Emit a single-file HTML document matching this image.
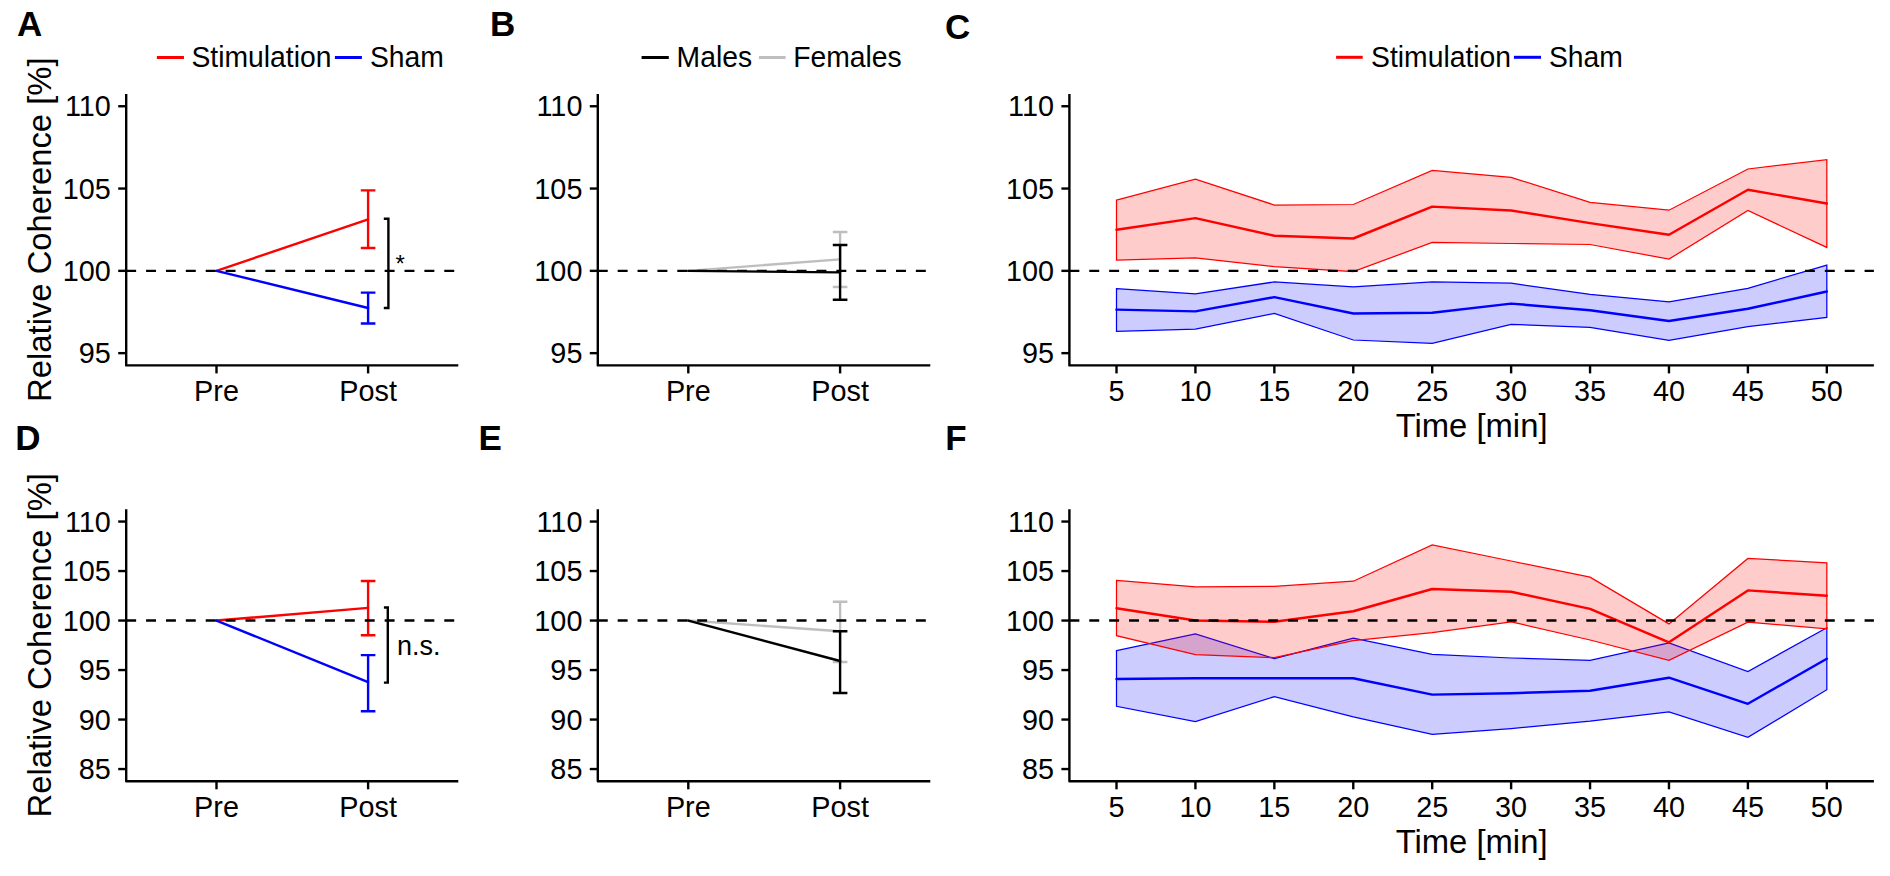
<!DOCTYPE html>
<html><head><meta charset="utf-8"><style>
html,body{margin:0;padding:0;background:#fff;}
body{width:1890px;height:876px;overflow:hidden;font-family:"Liberation Sans", sans-serif;}
svg{display:block;}
</style></head><body>
<svg width="1890" height="876" viewBox="0 0 1890 876" font-family='"Liberation Sans", sans-serif'>
<rect width="1890" height="876" fill="#fff"/>
<text x="17" y="36.0" font-size="35" font-weight="bold">A</text>
<text x="490" y="36.3" font-size="35" font-weight="bold">B</text>
<text x="945" y="38.8" font-size="35" font-weight="bold">C</text>
<text x="15.2" y="449.6" font-size="35" font-weight="bold">D</text>
<text x="478.5" y="449.6" font-size="35" font-weight="bold">E</text>
<text x="945.3" y="449.6" font-size="35" font-weight="bold">F</text>
<line x1="156.85" y1="57.5" x2="183.96" y2="57.5" stroke="#ff0000" stroke-width="3"/>
<text transform="translate(191.5 67.2) scale(1 1.03)" font-size="28.3">Stimulation</text>
<line x1="334.9" y1="57.5" x2="361.9" y2="57.5" stroke="#0000ff" stroke-width="3"/>
<text transform="translate(370.0 67.2) scale(1 1.03)" font-size="28.3">Sham</text>
<line x1="641.6" y1="57.5" x2="668.8" y2="57.5" stroke="#000000" stroke-width="3"/>
<text transform="translate(676.6 67.0) scale(1 1.03)" font-size="28.3">Males</text>
<line x1="758.9" y1="57.5" x2="785.6" y2="57.5" stroke="#bebebe" stroke-width="3"/>
<text transform="translate(793.2 67.0) scale(1 1.03)" font-size="28.3">Females</text>
<line x1="1336.1" y1="57.3" x2="1362.7" y2="57.3" stroke="#ff0000" stroke-width="3"/>
<text transform="translate(1371.1 67.0) scale(1 1.03)" font-size="28.3">Stimulation</text>
<line x1="1513.9" y1="57.3" x2="1541.0" y2="57.3" stroke="#0000ff" stroke-width="3"/>
<text transform="translate(1548.9 67.0) scale(1 1.03)" font-size="28.3">Sham</text>
<text transform="translate(50.8 229.70) rotate(-90) scale(1 1.03)" x="0" y="0" font-size="32.8" text-anchor="middle">Relative Coherence [%]</text>
<path d="M126.20 94.00 V365.40 H458.30" fill="none" stroke="#000" stroke-width="2.4" stroke-linejoin="round" stroke-linecap="butt"/>
<line x1="118.20" y1="106.25" x2="126.20" y2="106.25" stroke="#000" stroke-width="2.4"/>
<text transform="translate(110.80 116.45) scale(1 1.03)" font-size="28.8" text-anchor="end">110</text>
<line x1="118.20" y1="188.55" x2="126.20" y2="188.55" stroke="#000" stroke-width="2.4"/>
<text transform="translate(110.80 198.75) scale(1 1.03)" font-size="28.8" text-anchor="end">105</text>
<line x1="118.20" y1="270.85" x2="126.20" y2="270.85" stroke="#000" stroke-width="2.4"/>
<text transform="translate(110.80 281.05) scale(1 1.03)" font-size="28.8" text-anchor="end">100</text>
<line x1="118.20" y1="353.15" x2="126.20" y2="353.15" stroke="#000" stroke-width="2.4"/>
<text transform="translate(110.80 363.35) scale(1 1.03)" font-size="28.8" text-anchor="end">95</text>
<line x1="216.50" y1="365.40" x2="216.50" y2="373.40" stroke="#000" stroke-width="2.4"/>
<text transform="translate(216.50 400.80) scale(1 1.03)" font-size="28.8" text-anchor="middle">Pre</text>
<line x1="368.10" y1="365.40" x2="368.10" y2="373.40" stroke="#000" stroke-width="2.4"/>
<text transform="translate(368.10 400.80) scale(1 1.03)" font-size="28.8" text-anchor="middle">Post</text>
<path d="M216.50 270.85 L368.10 219.30" fill="none" stroke="#ff0000" stroke-width="2.4" stroke-linejoin="round" stroke-linecap="round"/>
<path d="M360.80 190.40 H375.40 M368.10 190.40 V248.00 M360.80 248.00 H375.40" fill="none" stroke="#ff0000" stroke-width="2.4"/>
<path d="M216.50 270.85 L368.10 308.00" fill="none" stroke="#0000ff" stroke-width="2.4" stroke-linejoin="round" stroke-linecap="round"/>
<path d="M360.80 292.60 H375.40 M368.10 292.60 V323.50 M360.80 323.50 H375.40" fill="none" stroke="#0000ff" stroke-width="2.4"/>
<line x1="126.20" y1="270.85" x2="458.30" y2="270.85" stroke="#000" stroke-width="2.4" stroke-dasharray="9.94 9.94"/>
<path d="M383.8 218.8 H388.4 V308.0 H383.8" fill="none" stroke="#000" stroke-width="2.4"/>
<text x="395.6" y="272.3" font-size="24">*</text>
<path d="M597.80 94.00 V365.40 H930.30" fill="none" stroke="#000" stroke-width="2.4" stroke-linejoin="round" stroke-linecap="butt"/>
<line x1="589.80" y1="106.25" x2="597.80" y2="106.25" stroke="#000" stroke-width="2.4"/>
<text transform="translate(582.40 116.45) scale(1 1.03)" font-size="28.8" text-anchor="end">110</text>
<line x1="589.80" y1="188.55" x2="597.80" y2="188.55" stroke="#000" stroke-width="2.4"/>
<text transform="translate(582.40 198.75) scale(1 1.03)" font-size="28.8" text-anchor="end">105</text>
<line x1="589.80" y1="270.85" x2="597.80" y2="270.85" stroke="#000" stroke-width="2.4"/>
<text transform="translate(582.40 281.05) scale(1 1.03)" font-size="28.8" text-anchor="end">100</text>
<line x1="589.80" y1="353.15" x2="597.80" y2="353.15" stroke="#000" stroke-width="2.4"/>
<text transform="translate(582.40 363.35) scale(1 1.03)" font-size="28.8" text-anchor="end">95</text>
<line x1="688.30" y1="365.40" x2="688.30" y2="373.40" stroke="#000" stroke-width="2.4"/>
<text transform="translate(688.30 400.80) scale(1 1.03)" font-size="28.8" text-anchor="middle">Pre</text>
<line x1="840.10" y1="365.40" x2="840.10" y2="373.40" stroke="#000" stroke-width="2.4"/>
<text transform="translate(840.10 400.80) scale(1 1.03)" font-size="28.8" text-anchor="middle">Post</text>
<path d="M688.30 270.85 L840.10 259.40" fill="none" stroke="#bebebe" stroke-width="2.4" stroke-linejoin="round" stroke-linecap="round"/>
<path d="M832.80 232.00 H847.40 M840.10 232.00 V287.00 M832.80 287.00 H847.40" fill="none" stroke="#bebebe" stroke-width="2.4"/>
<line x1="597.80" y1="270.85" x2="930.30" y2="270.85" stroke="#000" stroke-width="2.4" stroke-dasharray="9.94 9.94"/>
<path d="M688.30 270.85 L840.10 272.40" fill="none" stroke="#000000" stroke-width="2.4" stroke-linejoin="round" stroke-linecap="round"/>
<path d="M832.80 245.00 H847.40 M840.10 245.00 V299.70 M832.80 299.70 H847.40" fill="none" stroke="#000000" stroke-width="2.4"/>
<path d="M1069.40 94.00 V365.40 H1873.90" fill="none" stroke="#000" stroke-width="2.4" stroke-linejoin="round" stroke-linecap="butt"/>
<line x1="1061.40" y1="106.25" x2="1069.40" y2="106.25" stroke="#000" stroke-width="2.4"/>
<text transform="translate(1054.00 116.45) scale(1 1.03)" font-size="28.8" text-anchor="end">110</text>
<line x1="1061.40" y1="188.55" x2="1069.40" y2="188.55" stroke="#000" stroke-width="2.4"/>
<text transform="translate(1054.00 198.75) scale(1 1.03)" font-size="28.8" text-anchor="end">105</text>
<line x1="1061.40" y1="270.85" x2="1069.40" y2="270.85" stroke="#000" stroke-width="2.4"/>
<text transform="translate(1054.00 281.05) scale(1 1.03)" font-size="28.8" text-anchor="end">100</text>
<line x1="1061.40" y1="353.15" x2="1069.40" y2="353.15" stroke="#000" stroke-width="2.4"/>
<text transform="translate(1054.00 363.35) scale(1 1.03)" font-size="28.8" text-anchor="end">95</text>
<line x1="1116.50" y1="365.40" x2="1116.50" y2="373.40" stroke="#000" stroke-width="2.4"/>
<text transform="translate(1116.50 400.80) scale(1 1.03)" font-size="28.8" text-anchor="middle">5</text>
<line x1="1195.42" y1="365.40" x2="1195.42" y2="373.40" stroke="#000" stroke-width="2.4"/>
<text transform="translate(1195.42 400.80) scale(1 1.03)" font-size="28.8" text-anchor="middle">10</text>
<line x1="1274.35" y1="365.40" x2="1274.35" y2="373.40" stroke="#000" stroke-width="2.4"/>
<text transform="translate(1274.35 400.80) scale(1 1.03)" font-size="28.8" text-anchor="middle">15</text>
<line x1="1353.28" y1="365.40" x2="1353.28" y2="373.40" stroke="#000" stroke-width="2.4"/>
<text transform="translate(1353.28 400.80) scale(1 1.03)" font-size="28.8" text-anchor="middle">20</text>
<line x1="1432.20" y1="365.40" x2="1432.20" y2="373.40" stroke="#000" stroke-width="2.4"/>
<text transform="translate(1432.20 400.80) scale(1 1.03)" font-size="28.8" text-anchor="middle">25</text>
<line x1="1511.12" y1="365.40" x2="1511.12" y2="373.40" stroke="#000" stroke-width="2.4"/>
<text transform="translate(1511.12 400.80) scale(1 1.03)" font-size="28.8" text-anchor="middle">30</text>
<line x1="1590.05" y1="365.40" x2="1590.05" y2="373.40" stroke="#000" stroke-width="2.4"/>
<text transform="translate(1590.05 400.80) scale(1 1.03)" font-size="28.8" text-anchor="middle">35</text>
<line x1="1668.97" y1="365.40" x2="1668.97" y2="373.40" stroke="#000" stroke-width="2.4"/>
<text transform="translate(1668.97 400.80) scale(1 1.03)" font-size="28.8" text-anchor="middle">40</text>
<line x1="1747.90" y1="365.40" x2="1747.90" y2="373.40" stroke="#000" stroke-width="2.4"/>
<text transform="translate(1747.90 400.80) scale(1 1.03)" font-size="28.8" text-anchor="middle">45</text>
<line x1="1826.83" y1="365.40" x2="1826.83" y2="373.40" stroke="#000" stroke-width="2.4"/>
<text transform="translate(1826.83 400.80) scale(1 1.03)" font-size="28.8" text-anchor="middle">50</text>
<text transform="translate(1471.6 437.4) scale(1 1.03)" font-size="32.8" text-anchor="middle">Time [min]</text>
<path d="M1116.50 288.60 L1195.42 293.80 L1274.35 281.90 L1353.28 286.90 L1432.20 281.90 L1511.12 283.20 L1590.05 294.30 L1668.97 301.80 L1747.90 288.30 L1826.83 265.10 L1826.83 317.40 L1747.90 326.60 L1668.97 340.40 L1590.05 327.40 L1511.12 324.40 L1432.20 343.30 L1353.28 340.00 L1274.35 313.50 L1195.42 329.20 L1116.50 331.30 Z" fill="#0000ff" fill-opacity="0.2" stroke="#0000ff" stroke-width="1.25" stroke-linejoin="miter"/>
<path d="M1116.50 200.10 L1195.42 179.10 L1274.35 205.00 L1353.28 204.50 L1432.20 170.40 L1511.12 177.35 L1590.05 202.30 L1668.97 210.20 L1747.90 169.00 L1826.83 159.70 L1826.83 247.40 L1747.90 210.50 L1668.97 259.10 L1590.05 244.50 L1511.12 243.50 L1432.20 242.40 L1353.28 271.70 L1274.35 266.70 L1195.42 258.00 L1116.50 260.20 Z" fill="#ff0000" fill-opacity="0.2" stroke="#ff0000" stroke-width="1.25" stroke-linejoin="miter"/>
<path d="M1116.50 309.60 L1195.42 311.40 L1274.35 297.10 L1353.28 313.50 L1432.20 312.70 L1511.12 303.60 L1590.05 310.20 L1668.97 321.00 L1747.90 308.80 L1826.83 291.50" fill="none" stroke="#0000ff" stroke-width="2.45" stroke-linejoin="round" stroke-linecap="round"/>
<path d="M1116.50 229.80 L1195.42 218.10 L1274.35 235.70 L1353.28 238.50 L1432.20 206.60 L1511.12 210.50 L1590.05 223.10 L1668.97 234.70 L1747.90 189.80 L1826.83 203.50" fill="none" stroke="#ff0000" stroke-width="2.45" stroke-linejoin="round" stroke-linecap="round"/>
<line x1="1069.40" y1="270.85" x2="1873.90" y2="270.85" stroke="#000" stroke-width="2.4" stroke-dasharray="9.94 9.94"/>
<text transform="translate(50.8 645.30) rotate(-90) scale(1 1.03)" x="0" y="0" font-size="32.8" text-anchor="middle">Relative Coherence [%]</text>
<path d="M126.20 509.30 V781.30 H458.30" fill="none" stroke="#000" stroke-width="2.4" stroke-linejoin="round" stroke-linecap="butt"/>
<line x1="118.20" y1="521.55" x2="126.20" y2="521.55" stroke="#000" stroke-width="2.4"/>
<text transform="translate(110.80 531.75) scale(1 1.03)" font-size="28.8" text-anchor="end">110</text>
<line x1="118.20" y1="571.05" x2="126.20" y2="571.05" stroke="#000" stroke-width="2.4"/>
<text transform="translate(110.80 581.25) scale(1 1.03)" font-size="28.8" text-anchor="end">105</text>
<line x1="118.20" y1="620.55" x2="126.20" y2="620.55" stroke="#000" stroke-width="2.4"/>
<text transform="translate(110.80 630.75) scale(1 1.03)" font-size="28.8" text-anchor="end">100</text>
<line x1="118.20" y1="670.05" x2="126.20" y2="670.05" stroke="#000" stroke-width="2.4"/>
<text transform="translate(110.80 680.25) scale(1 1.03)" font-size="28.8" text-anchor="end">95</text>
<line x1="118.20" y1="719.55" x2="126.20" y2="719.55" stroke="#000" stroke-width="2.4"/>
<text transform="translate(110.80 729.75) scale(1 1.03)" font-size="28.8" text-anchor="end">90</text>
<line x1="118.20" y1="769.05" x2="126.20" y2="769.05" stroke="#000" stroke-width="2.4"/>
<text transform="translate(110.80 779.25) scale(1 1.03)" font-size="28.8" text-anchor="end">85</text>
<line x1="216.50" y1="781.30" x2="216.50" y2="789.30" stroke="#000" stroke-width="2.4"/>
<text transform="translate(216.50 816.70) scale(1 1.03)" font-size="28.8" text-anchor="middle">Pre</text>
<line x1="368.10" y1="781.30" x2="368.10" y2="789.30" stroke="#000" stroke-width="2.4"/>
<text transform="translate(368.10 816.70) scale(1 1.03)" font-size="28.8" text-anchor="middle">Post</text>
<path d="M216.50 620.55 L368.10 607.90" fill="none" stroke="#ff0000" stroke-width="2.4" stroke-linejoin="round" stroke-linecap="round"/>
<path d="M360.80 581.00 H375.40 M368.10 581.00 V635.30 M360.80 635.30 H375.40" fill="none" stroke="#ff0000" stroke-width="2.4"/>
<path d="M216.50 620.55 L368.10 682.20" fill="none" stroke="#0000ff" stroke-width="2.4" stroke-linejoin="round" stroke-linecap="round"/>
<path d="M360.80 655.10 H375.40 M368.10 655.10 V711.30 M360.80 711.30 H375.40" fill="none" stroke="#0000ff" stroke-width="2.4"/>
<line x1="126.20" y1="620.55" x2="458.30" y2="620.55" stroke="#000" stroke-width="2.4" stroke-dasharray="9.94 9.94"/>
<path d="M383.9 607.5 H387.8 V682.6 H383.9" fill="none" stroke="#000" stroke-width="2.4"/>
<text x="397.0" y="655.1" font-size="27">n.s.</text>
<path d="M597.80 509.30 V781.30 H930.30" fill="none" stroke="#000" stroke-width="2.4" stroke-linejoin="round" stroke-linecap="butt"/>
<line x1="589.80" y1="521.55" x2="597.80" y2="521.55" stroke="#000" stroke-width="2.4"/>
<text transform="translate(582.40 531.75) scale(1 1.03)" font-size="28.8" text-anchor="end">110</text>
<line x1="589.80" y1="571.05" x2="597.80" y2="571.05" stroke="#000" stroke-width="2.4"/>
<text transform="translate(582.40 581.25) scale(1 1.03)" font-size="28.8" text-anchor="end">105</text>
<line x1="589.80" y1="620.55" x2="597.80" y2="620.55" stroke="#000" stroke-width="2.4"/>
<text transform="translate(582.40 630.75) scale(1 1.03)" font-size="28.8" text-anchor="end">100</text>
<line x1="589.80" y1="670.05" x2="597.80" y2="670.05" stroke="#000" stroke-width="2.4"/>
<text transform="translate(582.40 680.25) scale(1 1.03)" font-size="28.8" text-anchor="end">95</text>
<line x1="589.80" y1="719.55" x2="597.80" y2="719.55" stroke="#000" stroke-width="2.4"/>
<text transform="translate(582.40 729.75) scale(1 1.03)" font-size="28.8" text-anchor="end">90</text>
<line x1="589.80" y1="769.05" x2="597.80" y2="769.05" stroke="#000" stroke-width="2.4"/>
<text transform="translate(582.40 779.25) scale(1 1.03)" font-size="28.8" text-anchor="end">85</text>
<line x1="688.30" y1="781.30" x2="688.30" y2="789.30" stroke="#000" stroke-width="2.4"/>
<text transform="translate(688.30 816.70) scale(1 1.03)" font-size="28.8" text-anchor="middle">Pre</text>
<line x1="840.10" y1="781.30" x2="840.10" y2="789.30" stroke="#000" stroke-width="2.4"/>
<text transform="translate(840.10 816.70) scale(1 1.03)" font-size="28.8" text-anchor="middle">Post</text>
<path d="M688.30 620.55 L840.10 631.20" fill="none" stroke="#bebebe" stroke-width="2.4" stroke-linejoin="round" stroke-linecap="round"/>
<path d="M832.80 601.70 H847.40 M840.10 601.70 V662.00 M832.80 662.00 H847.40" fill="none" stroke="#bebebe" stroke-width="2.4"/>
<line x1="597.80" y1="620.55" x2="930.30" y2="620.55" stroke="#000" stroke-width="2.4" stroke-dasharray="9.94 9.94"/>
<path d="M688.30 620.55 L840.10 661.00" fill="none" stroke="#000000" stroke-width="2.4" stroke-linejoin="round" stroke-linecap="round"/>
<path d="M832.80 631.20 H847.40 M840.10 631.20 V693.00 M832.80 693.00 H847.40" fill="none" stroke="#000000" stroke-width="2.4"/>
<path d="M1069.40 509.30 V781.30 H1873.90" fill="none" stroke="#000" stroke-width="2.4" stroke-linejoin="round" stroke-linecap="butt"/>
<line x1="1061.40" y1="521.55" x2="1069.40" y2="521.55" stroke="#000" stroke-width="2.4"/>
<text transform="translate(1054.00 531.75) scale(1 1.03)" font-size="28.8" text-anchor="end">110</text>
<line x1="1061.40" y1="571.05" x2="1069.40" y2="571.05" stroke="#000" stroke-width="2.4"/>
<text transform="translate(1054.00 581.25) scale(1 1.03)" font-size="28.8" text-anchor="end">105</text>
<line x1="1061.40" y1="620.55" x2="1069.40" y2="620.55" stroke="#000" stroke-width="2.4"/>
<text transform="translate(1054.00 630.75) scale(1 1.03)" font-size="28.8" text-anchor="end">100</text>
<line x1="1061.40" y1="670.05" x2="1069.40" y2="670.05" stroke="#000" stroke-width="2.4"/>
<text transform="translate(1054.00 680.25) scale(1 1.03)" font-size="28.8" text-anchor="end">95</text>
<line x1="1061.40" y1="719.55" x2="1069.40" y2="719.55" stroke="#000" stroke-width="2.4"/>
<text transform="translate(1054.00 729.75) scale(1 1.03)" font-size="28.8" text-anchor="end">90</text>
<line x1="1061.40" y1="769.05" x2="1069.40" y2="769.05" stroke="#000" stroke-width="2.4"/>
<text transform="translate(1054.00 779.25) scale(1 1.03)" font-size="28.8" text-anchor="end">85</text>
<line x1="1116.50" y1="781.30" x2="1116.50" y2="789.30" stroke="#000" stroke-width="2.4"/>
<text transform="translate(1116.50 816.70) scale(1 1.03)" font-size="28.8" text-anchor="middle">5</text>
<line x1="1195.42" y1="781.30" x2="1195.42" y2="789.30" stroke="#000" stroke-width="2.4"/>
<text transform="translate(1195.42 816.70) scale(1 1.03)" font-size="28.8" text-anchor="middle">10</text>
<line x1="1274.35" y1="781.30" x2="1274.35" y2="789.30" stroke="#000" stroke-width="2.4"/>
<text transform="translate(1274.35 816.70) scale(1 1.03)" font-size="28.8" text-anchor="middle">15</text>
<line x1="1353.28" y1="781.30" x2="1353.28" y2="789.30" stroke="#000" stroke-width="2.4"/>
<text transform="translate(1353.28 816.70) scale(1 1.03)" font-size="28.8" text-anchor="middle">20</text>
<line x1="1432.20" y1="781.30" x2="1432.20" y2="789.30" stroke="#000" stroke-width="2.4"/>
<text transform="translate(1432.20 816.70) scale(1 1.03)" font-size="28.8" text-anchor="middle">25</text>
<line x1="1511.12" y1="781.30" x2="1511.12" y2="789.30" stroke="#000" stroke-width="2.4"/>
<text transform="translate(1511.12 816.70) scale(1 1.03)" font-size="28.8" text-anchor="middle">30</text>
<line x1="1590.05" y1="781.30" x2="1590.05" y2="789.30" stroke="#000" stroke-width="2.4"/>
<text transform="translate(1590.05 816.70) scale(1 1.03)" font-size="28.8" text-anchor="middle">35</text>
<line x1="1668.97" y1="781.30" x2="1668.97" y2="789.30" stroke="#000" stroke-width="2.4"/>
<text transform="translate(1668.97 816.70) scale(1 1.03)" font-size="28.8" text-anchor="middle">40</text>
<line x1="1747.90" y1="781.30" x2="1747.90" y2="789.30" stroke="#000" stroke-width="2.4"/>
<text transform="translate(1747.90 816.70) scale(1 1.03)" font-size="28.8" text-anchor="middle">45</text>
<line x1="1826.83" y1="781.30" x2="1826.83" y2="789.30" stroke="#000" stroke-width="2.4"/>
<text transform="translate(1826.83 816.70) scale(1 1.03)" font-size="28.8" text-anchor="middle">50</text>
<text transform="translate(1471.6 853.4) scale(1 1.03)" font-size="32.8" text-anchor="middle">Time [min]</text>
<path d="M1116.50 650.70 L1195.42 633.90 L1274.35 658.60 L1353.28 638.10 L1432.20 654.30 L1511.12 658.00 L1590.05 660.40 L1668.97 642.80 L1747.90 671.50 L1826.83 627.70 L1826.83 689.70 L1747.90 737.40 L1668.97 711.80 L1590.05 721.20 L1511.12 728.60 L1432.20 734.40 L1353.28 716.80 L1274.35 696.60 L1195.42 721.50 L1116.50 706.30 Z" fill="#0000ff" fill-opacity="0.2" stroke="#0000ff" stroke-width="1.25" stroke-linejoin="miter"/>
<path d="M1116.50 580.40 L1195.42 586.90 L1274.35 586.40 L1353.28 581.20 L1432.20 545.00 L1511.12 561.00 L1590.05 577.20 L1668.97 623.90 L1747.90 558.40 L1826.83 562.80 L1826.83 628.80 L1747.90 622.20 L1668.97 660.40 L1590.05 640.00 L1511.12 621.80 L1432.20 632.60 L1353.28 640.70 L1274.35 657.60 L1195.42 654.60 L1116.50 635.70 Z" fill="#ff0000" fill-opacity="0.2" stroke="#ff0000" stroke-width="1.25" stroke-linejoin="miter"/>
<path d="M1116.50 679.00 L1195.42 678.30 L1274.35 678.30 L1353.28 678.30 L1432.20 694.60 L1511.12 693.20 L1590.05 690.80 L1668.97 677.70 L1747.90 703.80 L1826.83 658.70" fill="none" stroke="#0000ff" stroke-width="2.45" stroke-linejoin="round" stroke-linecap="round"/>
<path d="M1116.50 608.20 L1195.42 620.50 L1274.35 621.80 L1353.28 611.30 L1432.20 589.00 L1511.12 591.70 L1590.05 608.90 L1668.97 642.30 L1747.90 590.40 L1826.83 595.70" fill="none" stroke="#ff0000" stroke-width="2.45" stroke-linejoin="round" stroke-linecap="round"/>
<line x1="1069.40" y1="620.55" x2="1873.90" y2="620.55" stroke="#000" stroke-width="2.4" stroke-dasharray="9.94 9.94"/>
</svg>
</body></html>
